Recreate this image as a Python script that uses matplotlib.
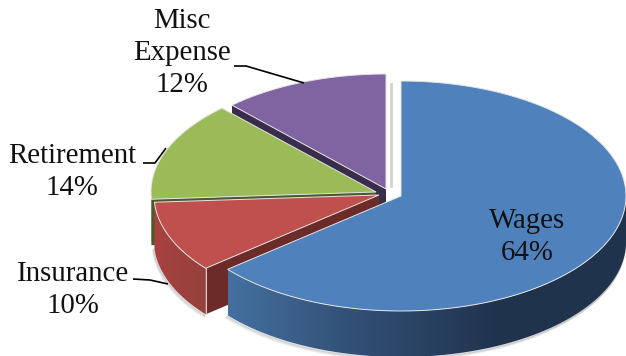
import numpy as np
import matplotlib
matplotlib.use("Agg")
import matplotlib.pyplot as plt
from matplotlib.patches import Polygon
from matplotlib.colors import LinearSegmentedColormap

categories = ["Wages", "Insurance", "Retirement", "Misc\nExpense"]
shares = [64, 10, 14, 12]

# geometry of the tilted, exploded pie (pixel space)
RX, RY, DEPTH = 225, 115, 46
apexes = {"Wages": (401, 196), "Insurance": (379, 195), "Retirement": (376, 192), "Misc\nExpense": (386, 189)}
tops = {"Wages": "#4F81BD", "Insurance": "#C0504D", "Retirement": "#9BBB59", "Misc\nExpense": "#8064A2"}
cuts = {"Insurance": "#6C2A29", "Retirement": "#4A5A2A", "Misc\nExpense": "#3A2D4C"}

fig = plt.figure(figsize=(6.26, 3.56), dpi=100)
ax = fig.add_axes([0, 0, 1, 1])
ax.set_xlim(0, 626)
ax.set_ylim(356, 0)
ax.axis("off")

edges = np.cumsum([0] + shares) / sum(shares) * 2 * np.pi
spans = {c: (edges[i], edges[i + 1]) for i, c in enumerate(categories)}


def arc(c, a, b, dy=0):
    cx, cy = apexes[c]
    t = np.linspace(a, b, 120)
    return np.column_stack([cx + RX * np.sin(t), cy - RY * np.cos(t) + dy])


def top(c, z):
    a, b = spans[c]
    pts = np.vstack([[apexes[c]], arc(c, a, b)])
    ax.add_patch(Polygon(pts, closed=True, fc=tops[c], ec="#E4E4E4", lw=0.7, zorder=z))


def cut(c, z):
    a = spans[c][0]
    o = arc(c, a, a)[0]
    ap = np.array(apexes[c], float)
    pts = [o, ap, ap + [0, DEPTH], o + [0, DEPTH]]
    ax.add_patch(Polygon(pts, closed=True, fc=cuts[c], ec="none", zorder=z))


def rim(c, a, b, z, colors=None, solid=None):
    up = arc(c, a, b)
    low = arc(c, a, b, DEPTH)
    pts = np.vstack([up, low[::-1]])
    if solid:
        ax.add_patch(Polygon(pts, closed=True, fc=solid, ec="none", zorder=z))
        return
    x0, x1 = pts[:, 0].min(), pts[:, 0].max()
    y0, y1 = pts[:, 1].min(), pts[:, 1].max()
    cmap = LinearSegmentedColormap.from_list("r", colors)
    im = ax.imshow(np.linspace(0, 1, 256)[None, :], extent=(x0, x1, y1, y0), aspect="auto", cmap=cmap, zorder=z)
    im.set_clip_path(Polygon(pts, closed=True, transform=ax.transData))


# soft shadow under the slices
for off, al in ((3, 0.12), (2, 0.2), (1, 0.3)):
    for c, (a, b) in (("Wages", (np.pi / 2, spans["Wages"][1])), ("Insurance", spans["Insurance"])):
        low = arc(c, a, b, DEPTH + off)
        ax.plot(low[:, 0] - off * 0.5, low[:, 1], color="#888888", alpha=al, lw=1.2, zorder=1)
ax.plot([391, 391], [84, 186], color="#D2D2D2", lw=2, zorder=1)

# Misc
cut("Misc\nExpense", 2)
top("Misc\nExpense", 3)
# Retirement
r0 = spans["Retirement"][0]
rim("Retirement", r0, 1.5 * np.pi, 3.5, solid="#5C7034")
cut("Retirement", 4)
top("Retirement", 5)
# Insurance
cut("Insurance", 6)
rim("Insurance", *spans["Insurance"], 6.5, colors=["#A8423F", "#96403D"])
top("Insurance", 7)
# separating line on the near corner of Insurance
corner = arc("Insurance", spans["Insurance"][0], spans["Insurance"][0])[0]
ax.plot([corner[0]] * 2, [corner[1], corner[1] + DEPTH], color="#D9C4C4", lw=0.8, zorder=7.5)
# Wages
rim("Wages", np.pi / 2, spans["Wages"][1], 8,
    colors=[(0, "#44709F"), (0.3, "#335177"), (0.68, "#1F334D"), (1, "#1F334D")])
top("Wages", 9)

# labels and leaders
font = dict(family="Liberation Serif", fontsize=20.8, color="#111111", ha="center", va="center",
            linespacing=1.28, zorder=12)
ax.text(182, 53, f"Misc\nExpense\n{shares[3]}%", **font)
ax.text(72, 172, f"Retirement\n{shares[2]}%", **font)
ax.text(73, 290, f"Insurance\n{shares[1]}%", **font)
ax.text(527, 237, f"Wages\n{shares[0]}%", **font)
for xs, ys in (([234, 246, 304], [66, 66, 83]), ([143, 155, 166], [163, 163, 148]), ([133, 150, 168], [279, 280, 284])):
    ax.plot(xs, ys, color="black", lw=1.2, zorder=11, solid_capstyle="butt")

fig.savefig("out.png", dpi=100)
